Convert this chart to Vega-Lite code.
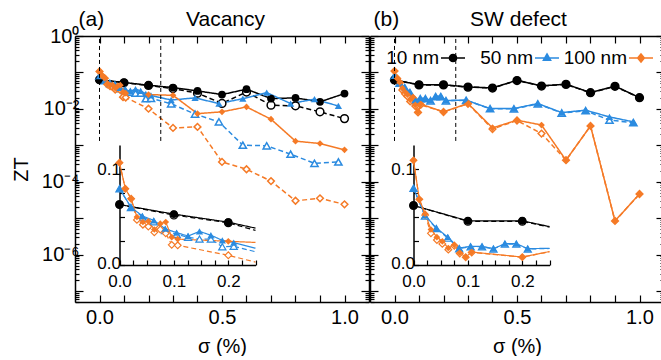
{
"$schema": "https://vega.github.io/schema/vega-lite/v6.json",
"padding": {"left": 11, "top": 8, "right": 0, "bottom": 0},
"datasets": {
"a": [
{"size":"10 nm","kind":"solid","sigma":0,"zt":0.063},{"size":"10 nm","kind":"solid","sigma":0.1,"zt":0.053},{"size":"10 nm","kind":"solid","sigma":0.2,"zt":0.0446},{"size":"10 nm","kind":"solid","sigma":0.3,"zt":0.0384},{"size":"10 nm","kind":"solid","sigma":0.4,"zt":0.0311},{"size":"10 nm","kind":"solid","sigma":0.5,"zt":0.0247},{"size":"10 nm","kind":"solid","sigma":0.6,"zt":0.0347},{"size":"10 nm","kind":"solid","sigma":0.7,"zt":0.0192},{"size":"10 nm","kind":"solid","sigma":0.8,"zt":0.02},{"size":"10 nm","kind":"solid","sigma":0.9,"zt":0.0156},{"size":"10 nm","kind":"solid","sigma":1.0,"zt":0.0263},
{"size":"10 nm","kind":"dashed","sigma":0,"zt":0.063},{"size":"10 nm","kind":"dashed","sigma":0.1,"zt":0.052},{"size":"10 nm","kind":"dashed","sigma":0.2,"zt":0.044},{"size":"10 nm","kind":"dashed","sigma":0.3,"zt":0.036},{"size":"10 nm","kind":"dashed","sigma":0.4,"zt":0.027},{"size":"10 nm","kind":"dashed","sigma":0.5,"zt":0.0141},{"size":"10 nm","kind":"dashed","sigma":0.6,"zt":0.029},{"size":"10 nm","kind":"dashed","sigma":0.7,"zt":0.0126},{"size":"10 nm","kind":"dashed","sigma":0.8,"zt":0.0121},{"size":"10 nm","kind":"dashed","sigma":0.9,"zt":0.0083},{"size":"10 nm","kind":"dashed","sigma":1.0,"zt":0.0054},
{"size":"50 nm","kind":"solid","sigma":0,"zt":0.0795},{"size":"50 nm","kind":"solid","sigma":0.021,"zt":0.0604},{"size":"50 nm","kind":"solid","sigma":0.042,"zt":0.051},{"size":"50 nm","kind":"solid","sigma":0.063,"zt":0.0465},{"size":"50 nm","kind":"solid","sigma":0.084,"zt":0.0378},{"size":"50 nm","kind":"solid","sigma":0.105,"zt":0.0337},{"size":"50 nm","kind":"solid","sigma":0.126,"zt":0.0302},{"size":"50 nm","kind":"solid","sigma":0.147,"zt":0.035},{"size":"50 nm","kind":"solid","sigma":0.168,"zt":0.031},{"size":"50 nm","kind":"solid","sigma":0.189,"zt":0.0257},{"size":"50 nm","kind":"solid","sigma":0.21,"zt":0.0233},{"size":"50 nm","kind":"solid","sigma":0.2925,"zt":0.0175},{"size":"50 nm","kind":"solid","sigma":0.39,"zt":0.02},{"size":"50 nm","kind":"solid","sigma":0.4875,"zt":0.014},{"size":"50 nm","kind":"solid","sigma":0.585,"zt":0.019},{"size":"50 nm","kind":"solid","sigma":0.6825,"zt":0.028},{"size":"50 nm","kind":"solid","sigma":0.78,"zt":0.014},{"size":"50 nm","kind":"solid","sigma":0.8775,"zt":0.0184},{"size":"50 nm","kind":"solid","sigma":0.975,"zt":0.012},
{"size":"50 nm","kind":"dashed","sigma":0,"zt":0.0795},{"size":"50 nm","kind":"dashed","sigma":0.021,"zt":0.06},{"size":"50 nm","kind":"dashed","sigma":0.042,"zt":0.05},{"size":"50 nm","kind":"dashed","sigma":0.063,"zt":0.045},{"size":"50 nm","kind":"dashed","sigma":0.084,"zt":0.036},{"size":"50 nm","kind":"dashed","sigma":0.105,"zt":0.032},{"size":"50 nm","kind":"dashed","sigma":0.126,"zt":0.029},{"size":"50 nm","kind":"dashed","sigma":0.147,"zt":0.027},{"size":"50 nm","kind":"dashed","sigma":0.168,"zt":0.027},{"size":"50 nm","kind":"dashed","sigma":0.189,"zt":0.019},{"size":"50 nm","kind":"dashed","sigma":0.21,"zt":0.0195},{"size":"50 nm","kind":"dashed","sigma":0.2925,"zt":0.0138},{"size":"50 nm","kind":"dashed","sigma":0.39,"zt":0.0072},{"size":"50 nm","kind":"dashed","sigma":0.4875,"zt":0.0044},{"size":"50 nm","kind":"dashed","sigma":0.585,"zt":0.00101},{"size":"50 nm","kind":"dashed","sigma":0.6825,"zt":0.00097},{"size":"50 nm","kind":"dashed","sigma":0.78,"zt":0.00057},{"size":"50 nm","kind":"dashed","sigma":0.8775,"zt":0.00032},{"size":"50 nm","kind":"dashed","sigma":0.975,"zt":0.00035},
{"size":"100 nm","kind":"solid","sigma":0,"zt":0.1066},{"size":"100 nm","kind":"solid","sigma":0.0107,"zt":0.0795},{"size":"100 nm","kind":"solid","sigma":0.0214,"zt":0.069},{"size":"100 nm","kind":"solid","sigma":0.032,"zt":0.05},{"size":"100 nm","kind":"solid","sigma":0.043,"zt":0.0448},{"size":"100 nm","kind":"solid","sigma":0.053,"zt":0.0455},{"size":"100 nm","kind":"solid","sigma":0.064,"zt":0.037},{"size":"100 nm","kind":"solid","sigma":0.075,"zt":0.043},{"size":"100 nm","kind":"solid","sigma":0.085,"zt":0.0448},{"size":"100 nm","kind":"solid","sigma":0.096,"zt":0.029},{"size":"100 nm","kind":"solid","sigma":0.107,"zt":0.027},{"size":"100 nm","kind":"solid","sigma":0.2,"zt":0.0247},{"size":"100 nm","kind":"solid","sigma":0.3,"zt":0.0235},{"size":"100 nm","kind":"solid","sigma":0.4,"zt":0.0074},{"size":"100 nm","kind":"solid","sigma":0.5,"zt":0.0083},{"size":"100 nm","kind":"solid","sigma":0.6,"zt":0.0113},{"size":"100 nm","kind":"solid","sigma":0.7,"zt":0.0052},{"size":"100 nm","kind":"solid","sigma":0.8,"zt":0.0013},{"size":"100 nm","kind":"solid","sigma":0.9,"zt":0.00112},{"size":"100 nm","kind":"solid","sigma":1.0,"zt":0.00075},
{"size":"100 nm","kind":"dashed","sigma":0,"zt":0.1066},{"size":"100 nm","kind":"dashed","sigma":0.0107,"zt":0.0795},{"size":"100 nm","kind":"dashed","sigma":0.0214,"zt":0.069},{"size":"100 nm","kind":"dashed","sigma":0.032,"zt":0.047},{"size":"100 nm","kind":"dashed","sigma":0.043,"zt":0.042},{"size":"100 nm","kind":"dashed","sigma":0.053,"zt":0.04},{"size":"100 nm","kind":"dashed","sigma":0.064,"zt":0.034},{"size":"100 nm","kind":"dashed","sigma":0.075,"zt":0.037},{"size":"100 nm","kind":"dashed","sigma":0.085,"zt":0.033},{"size":"100 nm","kind":"dashed","sigma":0.096,"zt":0.021},{"size":"100 nm","kind":"dashed","sigma":0.107,"zt":0.0205},{"size":"100 nm","kind":"dashed","sigma":0.2,"zt":0.0101},{"size":"100 nm","kind":"dashed","sigma":0.3,"zt":0.003},{"size":"100 nm","kind":"dashed","sigma":0.4,"zt":0.0032},{"size":"100 nm","kind":"dashed","sigma":0.5,"zt":0.00035},{"size":"100 nm","kind":"dashed","sigma":0.6,"zt":0.00022},{"size":"100 nm","kind":"dashed","sigma":0.7,"zt":0.000104},{"size":"100 nm","kind":"dashed","sigma":0.8,"zt":0.00003},{"size":"100 nm","kind":"dashed","sigma":0.9,"zt":0.000035},{"size":"100 nm","kind":"dashed","sigma":1.0,"zt":0.000024}
],
"b": [
{"size":"10 nm","kind":"solid","sigma":0,"zt":0.062},{"size":"10 nm","kind":"solid","sigma":0.1,"zt":0.046},{"size":"10 nm","kind":"solid","sigma":0.2,"zt":0.046},{"size":"10 nm","kind":"solid","sigma":0.3,"zt":0.04},{"size":"10 nm","kind":"solid","sigma":0.4,"zt":0.0376},{"size":"10 nm","kind":"solid","sigma":0.5,"zt":0.061},{"size":"10 nm","kind":"solid","sigma":0.6,"zt":0.0427},{"size":"10 nm","kind":"solid","sigma":0.7,"zt":0.0476},{"size":"10 nm","kind":"solid","sigma":0.8,"zt":0.028},{"size":"10 nm","kind":"solid","sigma":0.9,"zt":0.042},{"size":"10 nm","kind":"solid","sigma":1.0,"zt":0.0204},
{"size":"10 nm","kind":"dashed","sigma":0,"zt":0.062},{"size":"10 nm","kind":"dashed","sigma":0.1,"zt":0.0455},{"size":"10 nm","kind":"dashed","sigma":0.2,"zt":0.0455},{"size":"10 nm","kind":"dashed","sigma":0.3,"zt":0.0395},{"size":"10 nm","kind":"dashed","sigma":0.4,"zt":0.0372},{"size":"10 nm","kind":"dashed","sigma":0.5,"zt":0.06},{"size":"10 nm","kind":"dashed","sigma":0.6,"zt":0.0423},{"size":"10 nm","kind":"dashed","sigma":0.7,"zt":0.047},{"size":"10 nm","kind":"dashed","sigma":0.8,"zt":0.0277},{"size":"10 nm","kind":"dashed","sigma":0.9,"zt":0.0415},{"size":"10 nm","kind":"dashed","sigma":1.0,"zt":0.0202},
{"size":"50 nm","kind":"solid","sigma":0,"zt":0.08},{"size":"50 nm","kind":"solid","sigma":0.021,"zt":0.0518},{"size":"50 nm","kind":"solid","sigma":0.042,"zt":0.0385},{"size":"50 nm","kind":"solid","sigma":0.063,"zt":0.029},{"size":"50 nm","kind":"solid","sigma":0.084,"zt":0.0177},{"size":"50 nm","kind":"solid","sigma":0.105,"zt":0.0195},{"size":"50 nm","kind":"solid","sigma":0.126,"zt":0.0195},{"size":"50 nm","kind":"solid","sigma":0.147,"zt":0.017},{"size":"50 nm","kind":"solid","sigma":0.168,"zt":0.0222},{"size":"50 nm","kind":"solid","sigma":0.189,"zt":0.0222},{"size":"50 nm","kind":"solid","sigma":0.21,"zt":0.017},{"size":"50 nm","kind":"solid","sigma":0.2925,"zt":0.0174},{"size":"50 nm","kind":"solid","sigma":0.39,"zt":0.0102},{"size":"50 nm","kind":"solid","sigma":0.4875,"zt":0.0102},{"size":"50 nm","kind":"solid","sigma":0.585,"zt":0.014},{"size":"50 nm","kind":"solid","sigma":0.6825,"zt":0.0079},{"size":"50 nm","kind":"solid","sigma":0.78,"zt":0.0092},{"size":"50 nm","kind":"solid","sigma":0.8775,"zt":0.006},{"size":"50 nm","kind":"solid","sigma":0.975,"zt":0.0044},
{"size":"50 nm","kind":"dashed","sigma":0,"zt":0.08},{"size":"50 nm","kind":"dashed","sigma":0.021,"zt":0.051},{"size":"50 nm","kind":"dashed","sigma":0.042,"zt":0.038},{"size":"50 nm","kind":"dashed","sigma":0.063,"zt":0.028},{"size":"50 nm","kind":"dashed","sigma":0.084,"zt":0.017},{"size":"50 nm","kind":"dashed","sigma":0.105,"zt":0.019},{"size":"50 nm","kind":"dashed","sigma":0.126,"zt":0.019},{"size":"50 nm","kind":"dashed","sigma":0.147,"zt":0.0167},{"size":"50 nm","kind":"dashed","sigma":0.168,"zt":0.0218},{"size":"50 nm","kind":"dashed","sigma":0.189,"zt":0.0218},{"size":"50 nm","kind":"dashed","sigma":0.21,"zt":0.0167},{"size":"50 nm","kind":"dashed","sigma":0.2925,"zt":0.0172},{"size":"50 nm","kind":"dashed","sigma":0.39,"zt":0.0101},{"size":"50 nm","kind":"dashed","sigma":0.4875,"zt":0.01},{"size":"50 nm","kind":"dashed","sigma":0.585,"zt":0.0137},{"size":"50 nm","kind":"dashed","sigma":0.6825,"zt":0.0077},{"size":"50 nm","kind":"dashed","sigma":0.78,"zt":0.0089},{"size":"50 nm","kind":"dashed","sigma":0.8775,"zt":0.0049},{"size":"50 nm","kind":"dashed","sigma":0.975,"zt":0.0042},
{"size":"100 nm","kind":"solid","sigma":0,"zt":0.109},{"size":"100 nm","kind":"solid","sigma":0.0107,"zt":0.0684},{"size":"100 nm","kind":"solid","sigma":0.0214,"zt":0.0535},{"size":"100 nm","kind":"solid","sigma":0.032,"zt":0.037},{"size":"100 nm","kind":"solid","sigma":0.043,"zt":0.029},{"size":"100 nm","kind":"solid","sigma":0.053,"zt":0.0247},{"size":"100 nm","kind":"solid","sigma":0.064,"zt":0.0177},{"size":"100 nm","kind":"solid","sigma":0.075,"zt":0.021},{"size":"100 nm","kind":"solid","sigma":0.085,"zt":0.0128},{"size":"100 nm","kind":"solid","sigma":0.096,"zt":0.0083},{"size":"100 nm","kind":"solid","sigma":0.107,"zt":0.0135},{"size":"100 nm","kind":"solid","sigma":0.2,"zt":0.0083},{"size":"100 nm","kind":"solid","sigma":0.3,"zt":0.014},{"size":"100 nm","kind":"solid","sigma":0.4,"zt":0.003},{"size":"100 nm","kind":"solid","sigma":0.5,"zt":0.0049},{"size":"100 nm","kind":"solid","sigma":0.6,"zt":0.0036},{"size":"100 nm","kind":"solid","sigma":0.7,"zt":0.00039},{"size":"100 nm","kind":"solid","sigma":0.8,"zt":0.0034},{"size":"100 nm","kind":"solid","sigma":0.9,"zt":0.0000084},{"size":"100 nm","kind":"solid","sigma":1.0,"zt":0.000046},
{"size":"100 nm","kind":"dashed","sigma":0,"zt":0.109},{"size":"100 nm","kind":"dashed","sigma":0.0107,"zt":0.0684},{"size":"100 nm","kind":"dashed","sigma":0.0214,"zt":0.052},{"size":"100 nm","kind":"dashed","sigma":0.032,"zt":0.033},{"size":"100 nm","kind":"dashed","sigma":0.043,"zt":0.026},{"size":"100 nm","kind":"dashed","sigma":0.053,"zt":0.022},{"size":"100 nm","kind":"dashed","sigma":0.064,"zt":0.016},{"size":"100 nm","kind":"dashed","sigma":0.075,"zt":0.02},{"size":"100 nm","kind":"dashed","sigma":0.085,"zt":0.012},{"size":"100 nm","kind":"dashed","sigma":0.096,"zt":0.008},{"size":"100 nm","kind":"dashed","sigma":0.107,"zt":0.013},{"size":"100 nm","kind":"dashed","sigma":0.2,"zt":0.0082},{"size":"100 nm","kind":"dashed","sigma":0.3,"zt":0.0138},{"size":"100 nm","kind":"dashed","sigma":0.4,"zt":0.0028},{"size":"100 nm","kind":"dashed","sigma":0.5,"zt":0.0048},{"size":"100 nm","kind":"dashed","sigma":0.6,"zt":0.0021},{"size":"100 nm","kind":"dashed","sigma":0.7,"zt":0.00039},{"size":"100 nm","kind":"dashed","sigma":0.8,"zt":0.0034},{"size":"100 nm","kind":"dashed","sigma":0.9,"zt":0.0000084},{"size":"100 nm","kind":"dashed","sigma":1.0,"zt":0.000046}
]
},
"hconcat": [
{
"width": 294, "height": 266,
"data": {"name": "a"},
"resolve": {"scale": {"x": "independent", "y": "independent"}},
"layer": [
{
"encoding": {
"x": {"field": "sigma", "type": "quantitative", "scale": {"domain": [-0.1, 1.1], "nice": false, "zero": false},
 "axis": {"orient": "bottom", "values": [0,0.1,0.2,0.3,0.4,0.5,0.6,0.7,0.8,0.9,1], "labelExpr": "datum.value==0?'0.0':datum.value==0.5?'0.5':datum.value==1?'1.0':''", "tickSize": -7, "labelPadding": 12, "title": "σ (%)", "titlePadding": 9}},
"y": {"field": "zt", "type": "quantitative", "scale": {"type": "log", "domain": [5e-8, 1], "nice": false},
 "axis": {"orient": "left", "values": [5e-8,6e-8,7e-8,8e-8,9e-8,1e-7,2e-7,3e-7,4e-7,5e-7,6e-7,7e-7,8e-7,9e-7,1e-6,2e-6,3e-6,4e-6,5e-6,6e-6,7e-6,8e-6,9e-6,1e-5,2e-5,3e-5,4e-5,5e-5,6e-5,7e-5,8e-5,9e-5,1e-4,2e-4,3e-4,4e-4,5e-4,6e-4,7e-4,8e-4,9e-4,0.001,0.002,0.003,0.004,0.005,0.006,0.007,0.008,0.009,0.01,0.02,0.03,0.04,0.05,0.06,0.07,0.08,0.09,0.1,0.2,0.3,0.4,0.5,0.6,0.7,0.8,0.9,1],
 "labelExpr": "abs(log(datum.value)/LN10-round(log(datum.value)/LN10))<0.000001 && round(log(datum.value)/LN10)%2==0 ? ['10⁰','','10⁻²','','10⁻⁴','','10⁻⁶','',''][abs(round(log(datum.value)/LN10))] : ''",
 "tickSize": {"condition": {"test": "abs(log(datum.value)/LN10-round(log(datum.value)/LN10))<0.000001", "value": -8}, "value": -4},
 "labelPadding": 4, "title": "ZT", "titlePadding": 10}},
"color": {"field": "size", "type": "nominal", "scale": {"domain": ["10 nm", "50 nm", "100 nm"], "range": ["#000000", "#2b8be0", "#f57a26"]}, "legend": null}
},
"layer": [
{"mark": {"type": "line", "strokeWidth": 1.5}, "encoding": {"strokeDash": {"field": "kind", "type": "nominal", "scale": {"domain": ["solid", "dashed"], "range": [[1, 0], [5, 3]]}, "legend": null}}},
{"transform": [{"filter": "datum.kind=='dashed'"}], "mark": {"type": "point", "filled": false, "fill": "white", "strokeWidth": 1.5, "opacity": 1},
 "encoding": {"shape": {"field": "size", "type": "nominal", "scale": {"domain": ["10 nm", "50 nm", "100 nm"], "range": ["circle", "triangle-up", "diamond"]}, "legend": null},
  "size": {"field": "size", "type": "ordinal", "scale": {"domain": ["10 nm", "50 nm", "100 nm"], "range": [60, 45, 45]}, "legend": null}}},
{"transform": [{"filter": "datum.kind=='solid'"}], "mark": {"type": "point", "filled": true, "opacity": 1},
 "encoding": {"shape": {"field": "size", "type": "nominal", "scale": {"domain": ["10 nm", "50 nm", "100 nm"], "range": ["circle", "triangle-up", "diamond"]}, "legend": null},
  "size": {"field": "size", "type": "ordinal", "scale": {"domain": ["10 nm", "50 nm", "100 nm"], "range": [75, 48, 48]}, "legend": null}}}
]
},
{
"data": {"values": [{"edge": 0}, {"edge": 0.25}]},
"mark": {"type": "rule", "strokeDash": [4, 3], "color": "black", "strokeWidth": 1},
"encoding": {
"x": {"field": "edge", "type": "quantitative", "scale": {"domain": [-0.1, 1.1], "nice": false, "zero": false},
 "axis": {"orient": "top", "values": [0,0.1,0.2,0.3,0.4,0.5,0.6,0.7,0.8,0.9,1], "labels": false, "tickSize": -7, "title": "Vacancy", "titleX": 150, "titleY": -10.5, "titleAlign": "center", "titleBaseline": "alphabetic", "titleFontSize": 21}},
"y": {"datum": 0.83, "type": "quantitative", "scale": {"type": "log", "domain": [5e-8, 1], "nice": false},
 "axis": {"orient": "right", "values": [5e-8,6e-8,7e-8,8e-8,9e-8,1e-7,2e-7,3e-7,4e-7,5e-7,6e-7,7e-7,8e-7,9e-7,1e-6,2e-6,3e-6,4e-6,5e-6,6e-6,7e-6,8e-6,9e-6,1e-5,2e-5,3e-5,4e-5,5e-5,6e-5,7e-5,8e-5,9e-5,1e-4,2e-4,3e-4,4e-4,5e-4,6e-4,7e-4,8e-4,9e-4,0.001,0.002,0.003,0.004,0.005,0.006,0.007,0.008,0.009,0.01,0.02,0.03,0.04,0.05,0.06,0.07,0.08,0.09,0.1,0.2,0.3,0.4,0.5,0.6,0.7,0.8,0.9,1],
 "labels": false, "tickSize": {"condition": {"test": "abs(log(datum.value)/LN10-round(log(datum.value)/LN10))<0.000001", "value": -8}, "value": -4},
 "title": "(a)", "titleAngle": 0, "titleX": -291, "titleY": -10.5, "titleAlign": "left", "titleBaseline": "alphabetic", "titleFontSize": 21}},
"y2": {"datum": 0.0011}
}
},
{
"encoding": {
"x": {"field": "sigma", "type": "quantitative", "scale": {"domain": [0, 0.25], "range": [44.5, 180.5], "clamp": true, "nice": false, "zero": false},
 "axis": {"orient": "bottom", "offset": -37, "values": [0,0.025,0.05,0.075,0.1,0.125,0.15,0.175,0.2,0.225,0.25], "labelExpr": "datum.value==0?'0.0':abs(datum.value-0.1)<0.000001?'0.1':abs(datum.value-0.2)<0.000001?'0.2':''", "tickSize": -5, "labelFontSize": 17, "labelPadding": 13, "title": null}},
"y": {"field": "zt", "type": "quantitative", "scale": {"domain": [0, 0.125], "range": [229, 109], "nice": false, "zero": false},
 "axis": {"orient": "left", "offset": -44.5, "values": [0,0.025,0.05,0.075,0.1], "labelExpr": "datum.value==0?'0.0':abs(datum.value-0.1)<0.000001?'0.1':''", "tickSize": -5, "labelFontSize": 17, "labelPadding": 4, "labelOffset": {"condition": {"test": "datum.value==0", "value": -2}, "value": 0}, "title": null}},
"color": {"field": "size", "type": "nominal", "scale": {"domain": ["10 nm", "50 nm", "100 nm"], "range": ["#000000", "#2b8be0", "#f57a26"]}, "legend": null}
},
"layer": [
{"transform": [{"filter": "datum.sigma <= 0.31"}], "mark": {"type": "line", "strokeWidth": 1.2}, "encoding": {"strokeDash": {"field": "kind", "type": "nominal", "scale": {"domain": ["solid", "dashed"], "range": [[1, 0], [3, 2]]}, "legend": null}}},
{"transform": [{"filter": "datum.kind=='dashed' && datum.sigma <= 0.25"}], "mark": {"type": "point", "filled": false, "fill": "white", "strokeWidth": 1.2, "opacity": 1},
 "encoding": {"shape": {"field": "size", "type": "nominal", "scale": {"domain": ["10 nm", "50 nm", "100 nm"], "range": ["circle", "triangle-up", "diamond"]}, "legend": null},
  "size": {"field": "size", "type": "ordinal", "scale": {"domain": ["10 nm", "50 nm", "100 nm"], "range": [45, 32, 32]}, "legend": null}}},
{"transform": [{"filter": "datum.kind=='solid' && datum.sigma <= 0.25"}], "mark": {"type": "point", "filled": true, "opacity": 1},
 "encoding": {"shape": {"field": "size", "type": "nominal", "scale": {"domain": ["10 nm", "50 nm", "100 nm"], "range": ["circle", "triangle-up", "diamond"]}, "legend": null},
  "size": {"field": "size", "type": "ordinal", "scale": {"domain": ["10 nm", "50 nm", "100 nm"], "range": [55, 36, 36]}, "legend": null}}}
]
}
]
},
{
"width": 294, "height": 266,
"data": {"name": "b"},
"resolve": {"scale": {"x": "independent", "y": "independent", "shape": "independent", "color": "independent"}},
"layer": [
{
"encoding": {
"x": {"field": "sigma", "type": "quantitative", "scale": {"domain": [-0.1, 1.1], "nice": false, "zero": false},
 "axis": {"orient": "bottom", "values": [0,0.1,0.2,0.3,0.4,0.5,0.6,0.7,0.8,0.9,1], "labelExpr": "datum.value==0?'0.0':datum.value==0.5?'0.5':datum.value==1?'1.0':''", "tickSize": -7, "labelPadding": 12, "title": "σ (%)", "titlePadding": 9}},
"y": {"field": "zt", "type": "quantitative", "scale": {"type": "log", "domain": [5e-8, 1], "nice": false},
 "axis": {"orient": "left", "values": [5e-8,6e-8,7e-8,8e-8,9e-8,1e-7,2e-7,3e-7,4e-7,5e-7,6e-7,7e-7,8e-7,9e-7,1e-6,2e-6,3e-6,4e-6,5e-6,6e-6,7e-6,8e-6,9e-6,1e-5,2e-5,3e-5,4e-5,5e-5,6e-5,7e-5,8e-5,9e-5,1e-4,2e-4,3e-4,4e-4,5e-4,6e-4,7e-4,8e-4,9e-4,0.001,0.002,0.003,0.004,0.005,0.006,0.007,0.008,0.009,0.01,0.02,0.03,0.04,0.05,0.06,0.07,0.08,0.09,0.1,0.2,0.3,0.4,0.5,0.6,0.7,0.8,0.9,1],
 "labels": false,
 "tickSize": {"condition": {"test": "abs(log(datum.value)/LN10-round(log(datum.value)/LN10))<0.000001", "value": -8}, "value": -4},
 "title": null}},
"color": {"field": "size", "type": "nominal", "scale": {"domain": ["10 nm", "50 nm", "100 nm"], "range": ["#000000", "#2b8be0", "#f57a26"]}, "legend": null}
},
"layer": [
{"mark": {"type": "line", "strokeWidth": 1.5}, "encoding": {"strokeDash": {"field": "kind", "type": "nominal", "scale": {"domain": ["solid", "dashed"], "range": [[1, 0], [5, 3]]}, "legend": null}}},
{"transform": [{"filter": "datum.kind=='dashed'"}], "mark": {"type": "point", "filled": false, "fill": "white", "strokeWidth": 1.5, "opacity": 1},
 "encoding": {"shape": {"field": "size", "type": "nominal", "scale": {"domain": ["10 nm", "50 nm", "100 nm"], "range": ["circle", "triangle-up", "diamond"]}, "legend": null},
  "size": {"field": "size", "type": "ordinal", "scale": {"domain": ["10 nm", "50 nm", "100 nm"], "range": [60, 45, 45]}, "legend": null}}},
{"transform": [{"filter": "datum.kind=='solid'"}], "mark": {"type": "point", "filled": true, "opacity": 1},
 "encoding": {"shape": {"field": "size", "type": "nominal", "scale": {"domain": ["10 nm", "50 nm", "100 nm"], "range": ["circle", "triangle-up", "diamond"]}, "legend": null},
  "size": {"field": "size", "type": "ordinal", "scale": {"domain": ["10 nm", "50 nm", "100 nm"], "range": [75, 48, 48]}, "legend": null}}}
]
},
{
"data": {"values": [{"edge": 0}, {"edge": 0.25}]},
"mark": {"type": "rule", "strokeDash": [4, 3], "color": "black", "strokeWidth": 1},
"encoding": {
"x": {"field": "edge", "type": "quantitative", "scale": {"domain": [-0.1, 1.1], "nice": false, "zero": false},
 "axis": {"orient": "top", "values": [0,0.1,0.2,0.3,0.4,0.5,0.6,0.7,0.8,0.9,1], "labels": false, "tickSize": -7, "title": "SW defect", "titleX": 148, "titleY": -10.5, "titleAlign": "center", "titleBaseline": "alphabetic", "titleFontSize": 21}},
"y": {"datum": 0.83, "type": "quantitative", "scale": {"type": "log", "domain": [5e-8, 1], "nice": false},
 "axis": {"orient": "right", "values": [5e-8,6e-8,7e-8,8e-8,9e-8,1e-7,2e-7,3e-7,4e-7,5e-7,6e-7,7e-7,8e-7,9e-7,1e-6,2e-6,3e-6,4e-6,5e-6,6e-6,7e-6,8e-6,9e-6,1e-5,2e-5,3e-5,4e-5,5e-5,6e-5,7e-5,8e-5,9e-5,1e-4,2e-4,3e-4,4e-4,5e-4,6e-4,7e-4,8e-4,9e-4,0.001,0.002,0.003,0.004,0.005,0.006,0.007,0.008,0.009,0.01,0.02,0.03,0.04,0.05,0.06,0.07,0.08,0.09,0.1,0.2,0.3,0.4,0.5,0.6,0.7,0.8,0.9,1],
 "labels": false, "tickSize": {"condition": {"test": "abs(log(datum.value)/LN10-round(log(datum.value)/LN10))<0.000001", "value": -8}, "value": -4},
 "title": "(b)", "titleAngle": 0, "titleX": -291, "titleY": -10.5, "titleAlign": "left", "titleBaseline": "alphabetic", "titleFontSize": 21}},
"y2": {"datum": 0.0011}
}
},
{
"encoding": {
"x": {"field": "sigma", "type": "quantitative", "scale": {"domain": [0, 0.25], "range": [43.5, 179.5], "clamp": true, "nice": false, "zero": false},
 "axis": {"orient": "bottom", "offset": -37, "values": [0,0.025,0.05,0.075,0.1,0.125,0.15,0.175,0.2,0.225,0.25], "labelExpr": "datum.value==0?'0.0':abs(datum.value-0.1)<0.000001?'0.1':abs(datum.value-0.2)<0.000001?'0.2':''", "tickSize": -5, "labelFontSize": 17, "labelPadding": 13, "title": null}},
"y": {"field": "zt", "type": "quantitative", "scale": {"domain": [0, 0.125], "range": [229, 109], "nice": false, "zero": false},
 "axis": {"orient": "left", "offset": -43.5, "values": [0,0.025,0.05,0.075,0.1], "labelExpr": "datum.value==0?'0.0':abs(datum.value-0.1)<0.000001?'0.1':''", "tickSize": -5, "labelFontSize": 17, "labelPadding": 4, "labelOffset": {"condition": {"test": "datum.value==0", "value": -2}, "value": 0}, "title": null}},
"color": {"field": "size", "type": "nominal", "scale": {"domain": ["10 nm", "50 nm", "100 nm"], "range": ["#000000", "#2b8be0", "#f57a26"]}, "legend": null}
},
"layer": [
{"transform": [{"filter": "datum.sigma <= 0.31"}], "mark": {"type": "line", "strokeWidth": 1.2}, "encoding": {"strokeDash": {"field": "kind", "type": "nominal", "scale": {"domain": ["solid", "dashed"], "range": [[1, 0], [3, 2]]}, "legend": null}}},
{"transform": [{"filter": "datum.kind=='dashed' && datum.sigma <= 0.25"}], "mark": {"type": "point", "filled": false, "fill": "white", "strokeWidth": 1.2, "opacity": 1},
 "encoding": {"shape": {"field": "size", "type": "nominal", "scale": {"domain": ["10 nm", "50 nm", "100 nm"], "range": ["circle", "triangle-up", "diamond"]}, "legend": null},
  "size": {"field": "size", "type": "ordinal", "scale": {"domain": ["10 nm", "50 nm", "100 nm"], "range": [45, 32, 32]}, "legend": null}}},
{"transform": [{"filter": "datum.kind=='solid' && datum.sigma <= 0.25"}], "mark": {"type": "point", "filled": true, "opacity": 1},
 "encoding": {"shape": {"field": "size", "type": "nominal", "scale": {"domain": ["10 nm", "50 nm", "100 nm"], "range": ["circle", "triangle-up", "diamond"]}, "legend": null},
  "size": {"field": "size", "type": "ordinal", "scale": {"domain": ["10 nm", "50 nm", "100 nm"], "range": [55, 36, 36]}, "legend": null}}}
]
},
{
"data": {"values": [{"size": "10 nm"}, {"size": "50 nm"}, {"size": "100 nm"}]},
"mark": {"type": "point", "filled": false, "opacity": 0, "strokeWidth": 1.5},
"encoding": {
"color": {"field": "size", "type": "nominal", "scale": {"domain": ["10 nm", "50 nm", "100 nm"], "range": ["#000000", "#2b8be0", "#f57a26"]},
 "legend": {"orient": "none", "legendX": 70, "legendY": 9, "direction": "horizontal", "title": null, "labelFontSize": 19, "labelFont": "Liberation Sans", "labelColor": "black", "labelAlign": "right", "labelOffset": -27, "labelLimit": 0, "symbolSize": 576, "symbolStrokeWidth": 1.5, "symbolOpacity": 1, "columnPadding": 1, "gridAlign": "all", "padding": 0}},
"shape": {"field": "size", "type": "nominal", "scale": {"domain": ["10 nm", "50 nm", "100 nm"], "range": [
 "M-1,0H1M0.3,0A0.3,0.3,0,1,1,-0.3,0A0.3,0.3,0,1,1,0.3,0M0.2,0A0.2,0.2,0,1,1,-0.2,0A0.2,0.2,0,1,1,0.2,0M0.1,0A0.1,0.1,0,1,1,-0.1,0A0.1,0.1,0,1,1,0.1,0",
 "M-1,0H1M0,-0.34L0.3,0.18L-0.3,0.18ZM0,-0.2L0.18,0.11L-0.18,0.11ZM0,-0.085L0.075,0.045L-0.075,0.045Z",
 "M-1,0H1M0,-0.34L0.28,0L0,0.34L-0.28,0ZM0,-0.2L0.17,0L0,0.2L-0.17,0ZM0,-0.085L0.07,0L0,0.085L-0.07,0Z"]},
 "legend": {"orient": "none", "legendX": 70, "legendY": 9, "direction": "horizontal", "title": null, "labelFontSize": 19, "labelFont": "Liberation Sans", "labelColor": "black", "labelAlign": "right", "labelOffset": -27, "labelLimit": 0, "symbolSize": 576, "symbolStrokeWidth": 1.5, "symbolOpacity": 1, "columnPadding": 1, "gridAlign": "all", "padding": 0}}
}
}
]
}
],
"spacing": 1,
"bounds": "flush",
"resolve": {"scale": {"color": "independent", "shape": "independent", "size": "independent", "strokeDash": "independent"}},
"config": {
"view": {"stroke": null},
"font": "Liberation Sans",
"axis": {"domainColor": "black", "domainWidth": 1.5, "tickColor": "black", "tickWidth": 1.2, "labelColor": "black", "labelFont": "Liberation Sans", "labelFontSize": 20, "titleFont": "Liberation Sans", "titleFontSize": 20, "titleFontWeight": "normal", "titleColor": "black", "grid": false, "labelFlush": false, "labelOverlap": false, "labelBound": false}
}
}
